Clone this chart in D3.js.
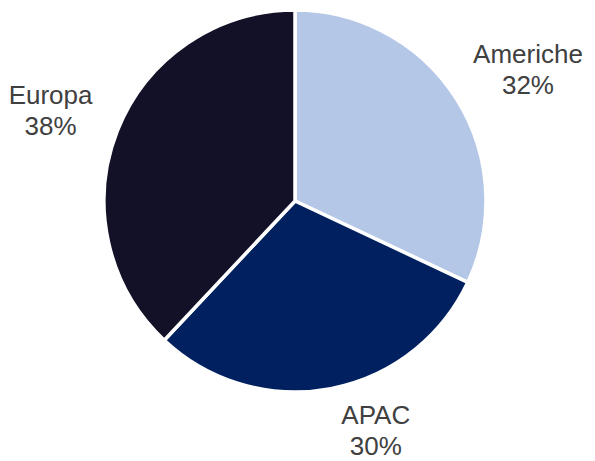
<!DOCTYPE html>
<html>
<head>
<meta charset="utf-8">
<script src="https://cdn.jsdelivr.net/npm/d3@7"></script>
<style>
body { margin: 0; background: #fff; }
text { font-family: "Liberation Sans", Arial, sans-serif; }
</style>
</head>
<body>
<div id="chart"></div>
<script>
var svgWidth = 595;
var svgHeight = 461;

// data
var regions = ["Americhe", "APAC", "Europa"];
var shares = [32, 30, 38];
var colors = ["#b4c7e7", "#002060", "#121128"];

var cx = 295, cy = 201, radius = 191;

var svg = d3.select("#chart")
  .append("svg")
  .attr("width", svgWidth)
  .attr("height", svgHeight);

var chartGroup = svg.append("g")
  .attr("transform", `translate(${cx}, ${cy})`);

var pie = d3.pie().sort(null).value(d => d.value);
var arc = d3.arc().innerRadius(0).outerRadius(radius);

var data = regions.map((r, i) => ({ name: r, value: shares[i], color: colors[i] }));
var arcs = pie(data);

chartGroup.selectAll("path")
  .data(arcs)
  .enter()
  .append("path")
  .attr("d", arc)
  .attr("fill", d => d.data.color)
  .attr("stroke", "#fff")
  .attr("stroke-width", 3.5)
  .attr("stroke-linejoin", "round");

// labels outside, text block pushed away from the pie
var fontSize = 26, lineH = 31, capH = 0.716 * fontSize, gap = 30;
var labels = chartGroup.selectAll(".lbl")
  .data(arcs)
  .enter()
  .append("text")
  .attr("class", "lbl")
  .attr("text-anchor", "middle")
  .attr("fill", "#404040")
  .attr("font-size", fontSize + "px");

labels.append("tspan").text(d => d.data.name);
labels.append("tspan").text(d => d.data.value + "%");

labels.each(function(d) {
  var t = d3.select(this);
  var w = d3.max(t.selectAll("tspan").nodes(), n => n.getComputedTextLength());
  var h = lineH + capH;
  var a = (d.startAngle + d.endAngle) / 2;
  var s = Math.sin(a), c = -Math.cos(a);
  // if the block would leave the picture at the bottom, slide it round the pie
  var maxY = svgHeight - cy - h / 2 - 2;
  if ((radius + gap + h / 2) * c > maxY) {
    c = maxY / (radius + gap + h / 2);
    s = Math.sign(s) * Math.sqrt(1 - c * c);
  }
  var px = (radius + gap) * s, py = (radius + gap) * c;
  var mx = px + s * w / 2;
  var my = py + c * h / 2;
  my = Math.min(my, svgHeight - cy - h / 2 - 6);
  t.selectAll("tspan")
    .attr("x", mx)
    .attr("y", (e, i) => my - h / 2 + capH + i * lineH);
});
</script>
</body>
</html>
